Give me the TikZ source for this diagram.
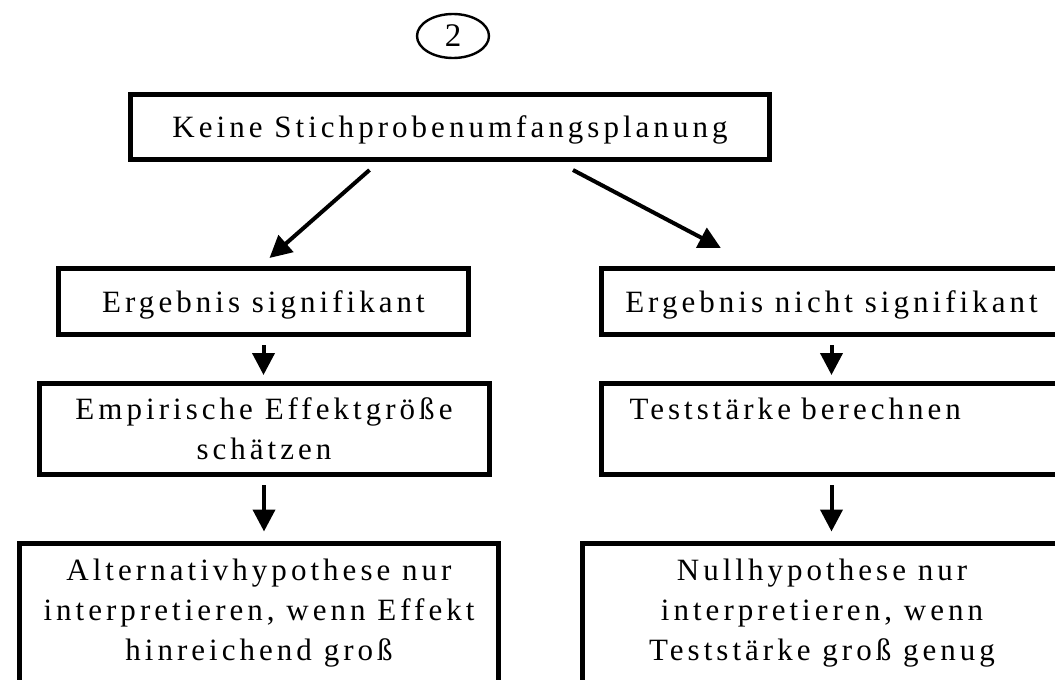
\documentclass[tikz,border=0pt]{standalone}
\usepackage{fontspec}
\setmainfont{Liberation Serif}[LetterSpace=13,Ligatures=NoCommon]
\usepackage{tikz}
\usetikzlibrary{calc}
\usetikzlibrary{shapes.geometric}
\usetikzlibrary{positioning}
\usetikzlibrary {arrows.meta}

\begin{document}
\begin{tikzpicture}[
    x=0.5pt, y=-0.5pt,
    every node/.style={font=\fontsize{15.5}{20}\selectfont},
    planbox/.style={rectangle, draw=black, line width=2.5pt, inner sep=0pt, align=center},
    flowarrow/.style={line width=2pt, -{Triangle[length=11pt, width=11pt]}},
]
    \useasboundingbox (0, 0) rectangle (1055, 680);

    % Number
    \node at (453, 36) [ellipse, draw=black, line width=1.2pt, minimum width=36pt, minimum height=22pt, inner sep=0pt, font=\fontsize{16.5}{20}\selectfont](number){2};

    % Start
    \node at (450, 127) [planbox, text depth=0pt, minimum width=319.5pt, minimum height=32.5pt](top){Keine Stichprobenumfangsplanung};

    % Left side
    \node at (263.5, 301.5) [planbox, text depth=0pt, minimum width=205pt, minimum height=33pt](sig){Ergebnis signifikant};
    \node at (264, 429) [planbox, minimum width=225pt, minimum height=45.5pt](effect){Empirische Effektgröße\\schätzen};
    \node at (259, 630) [planbox, minimum width=239.5pt, minimum height=87pt](alt){Alternativhypothese nur\\interpretieren, wenn Effekt\\hinreichend groß\\\mbox{}};

    % Right side
    \node at (831.5, 301.5) [planbox, text depth=0pt, minimum width=230pt, minimum height=33pt](nonsig){Ergebnis nicht signifikant};
    \node at (831.5, 429) [planbox, align=left, text width=202pt, inner xsep=14pt, minimum width=230pt, minimum height=45.5pt](power){Teststärke berechnen\\\mbox{}};
    \node at (822, 630) [planbox, minimum width=239.5pt, minimum height=87pt](null){Nullhypothese nur\\interpretieren, wenn\\Teststärke groß genug\\\mbox{}};

    % Arrows
    \draw [flowarrow] ($(top.south west)!.375!(top.south east)+(0, 8)$) -- ($(sig.north)+(6, -8)$);
    \draw [flowarrow] ($(top.south west)!.691!(top.south east)+(0, 8)$) -- ($(nonsig.north west)!.262!(nonsig.north east)+(0, -18)$);
    \draw [flowarrow, shorten <=4pt, shorten >=3pt] (sig.south) -- (sig.south |- effect.north);
    \draw [flowarrow, shorten <=4pt, shorten >=4.5pt] (effect.south) -- (effect.south |- alt.north);
    \draw [flowarrow, shorten <=4pt, shorten >=3pt] (nonsig.south) -- (nonsig.south |- power.north);
    \draw [flowarrow, shorten <=4pt, shorten >=4.5pt] (power.south) -- (power.south |- null.north);

\end{tikzpicture}
\end{document}
